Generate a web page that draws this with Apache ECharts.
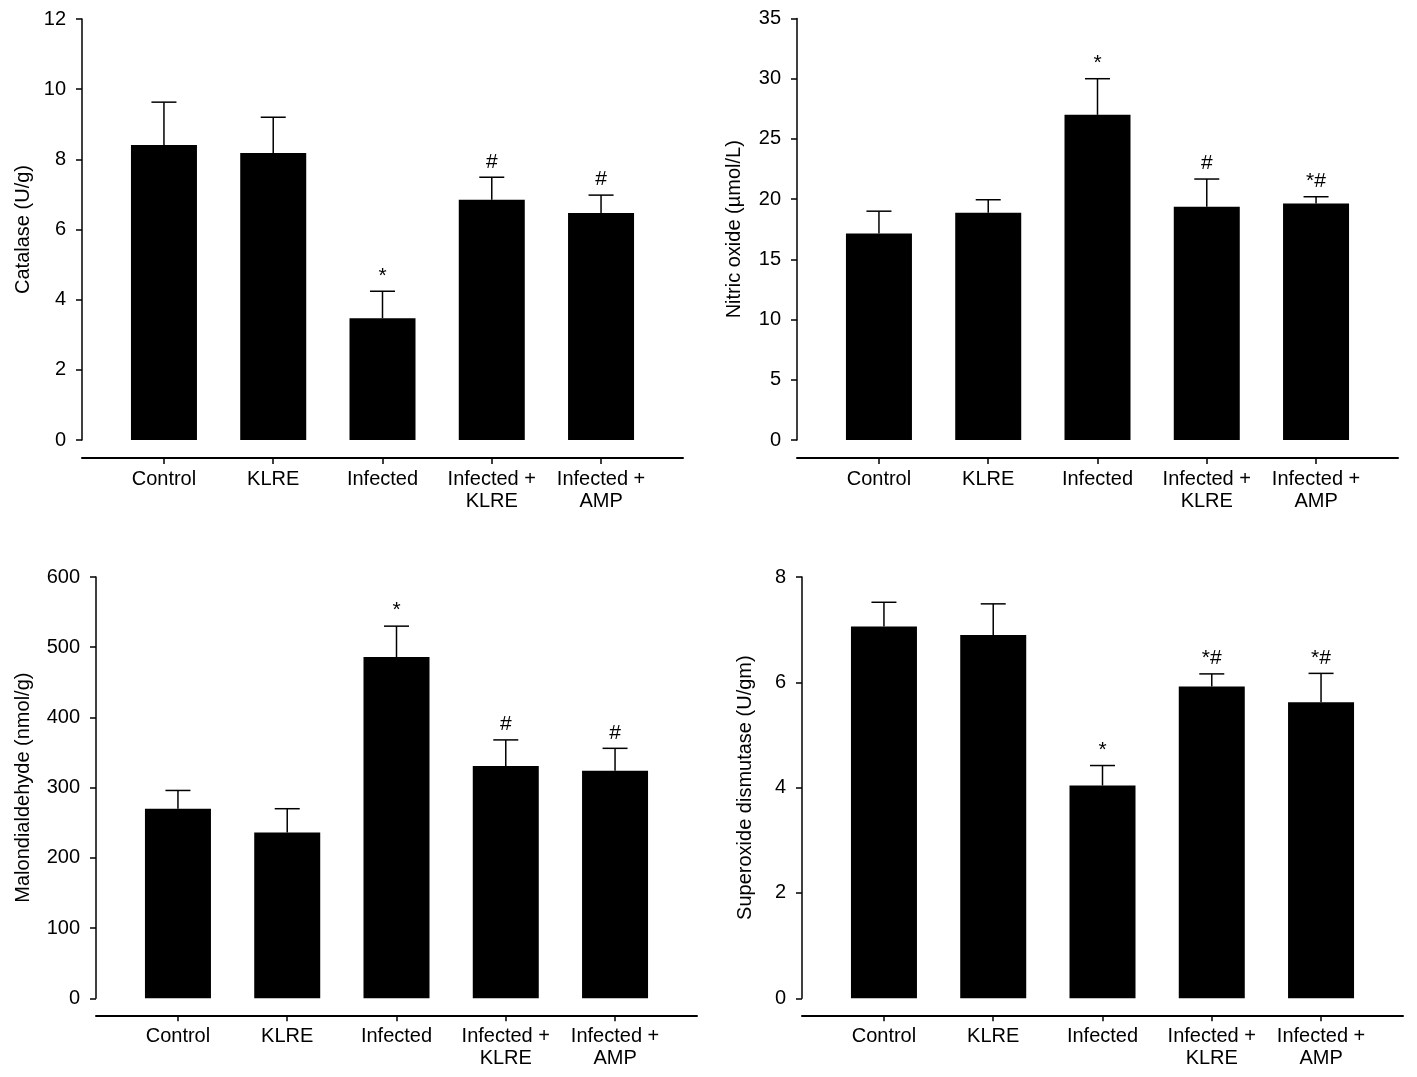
<!DOCTYPE html>
<html>
<head>
<meta charset="utf-8">
<script src="https://cdn.jsdelivr.net/npm/echarts@6/dist/echarts.min.js"></script>
<style>
html,body{margin:0;padding:0;background:#fff;}
#chart{width:1417px;height:1077px;}
</style>
</head>
<body>
<div id="chart"></div>
<script>
const categories = ['Control', 'KLRE', 'Infected', 'Infected +\nKLRE', 'Infected +\nAMP'];

const catalaseMean  = [8.41, 8.18, 3.47, 6.85, 6.47];
const catalaseUpper = [9.63, 9.20, 4.24, 7.49, 6.98];
const catalaseMarks = ['', '', '*', '#', '#'];

const nitricMean  = [17.15, 18.87, 27.0, 19.37, 19.64];
const nitricUpper = [19.0, 19.95, 30.0, 21.67, 20.2];
const nitricMarks = ['', '', '*', '#', '*#'];

const mdaMean  = [270, 236, 486, 331, 324];
const mdaUpper = [296, 270, 530, 368, 356];
const mdaMarks = ['', '', '*', '#', '#'];

const sodMean  = [7.06, 6.90, 4.04, 5.92, 5.62];
const sodUpper = [7.52, 7.49, 4.42, 6.16, 6.17];
const sodMarks = ['', '', '*', '*#', '*#'];

const FONT = "'Liberation Sans', Arial, sans-serif";

const panels = [
  {left: 82,  top: 19,  height: 421, name: 'Catalase (U/g)', max: 12, interval: 2, nameGap: 49, offset: 18,
   mean: catalaseMean, upper: catalaseUpper, marks: catalaseMarks},
  {left: 797, top: 18.5, height: 421.5, name: 'Nitric oxide (µmol/L)', max: 35, interval: 5, nameGap: 53, offset: 18,
   mean: nitricMean, upper: nitricUpper, marks: nitricMarks},
  {left: 96,  top: 577, height: 421.3, name: 'Malondialdehyde (nmol/g)', max: 600, interval: 100, nameGap: 63, offset: 17,
   mean: mdaMean, upper: mdaUpper, marks: mdaMarks},
  {left: 802, top: 577, height: 421.3, name: 'Superoxide dismutase (U/gm)', max: 8, interval: 2, nameGap: 47, offset: 17,
   mean: sodMean, upper: sodUpper, marks: sodMarks}
];

const grid = [], xAxis = [], yAxis = [], series = [];
panels.forEach((p, i) => {
  grid.push({left: p.left, top: p.top, width: 601, height: p.height, containLabel: false});
  xAxis.push({
    type: 'value', gridIndex: i, min: -0.75, max: 4.75, offset: p.offset,
    splitLine: {show: false},
    axisLine: {show: true, onZero: false, lineStyle: {color: '#000', width: 2}},
    axisTick: {show: true, customValues: [0, 1, 2, 3, 4], length: 6, lineStyle: {color: '#000', width: 1.5}},
    axisLabel: {show: true, customValues: [0, 1, 2, 3, 4], margin: 10,
      formatter: v => categories[Math.round(v)],
      color: '#000', fontSize: 20, fontFamily: FONT, lineHeight: 22}
  });
  yAxis.push({
    type: 'value', gridIndex: i, min: 0, max: p.max, interval: p.interval,
    name: p.name, nameLocation: 'middle', nameGap: p.nameGap, nameRotate: 90,
    nameTextStyle: {color: '#000', fontSize: 20, fontFamily: FONT},
    splitLine: {show: false},
    axisLine: {show: true, onZero: false, lineStyle: {color: '#000', width: 1.5}},
    axisTick: {show: true, length: 6, lineStyle: {color: '#000', width: 1.5}},
    axisLabel: {margin: 16, color: '#000', fontSize: 20, fontFamily: FONT}
  });
  series.push({
    type: 'bar', xAxisIndex: i, yAxisIndex: i, barWidth: 66,
    itemStyle: {color: '#000'},
    data: p.mean.map((v, k) => [k, v])
  });
  const marks = p.marks;
  series.push({
    type: 'custom', xAxisIndex: i, yAxisIndex: i, z: 5,
    data: p.mean.map((v, k) => [k, v, p.upper[k]]),
    renderItem: (params, api) => {
      const x = api.value(0), m = api.value(1), u = api.value(2);
      const p0 = api.coord([x, m]);
      const p1 = api.coord([x, u]);
      const st = {stroke: '#000', lineWidth: 1.5};
      return {
        type: 'group',
        children: [
          {type: 'line', shape: {x1: p0[0], y1: p0[1], x2: p1[0], y2: p1[1]}, style: st},
          {type: 'line', shape: {x1: p1[0] - 12.5, y1: p1[1], x2: p1[0] + 12.5, y2: p1[1]}, style: st},
          {type: 'text', style: {text: marks[params.dataIndex], x: p1[0], y: p1[1] - 5,
            align: 'center', verticalAlign: 'bottom', fill: '#000', font: '21px ' + FONT}}
        ]
      };
    }
  });
});

const chart = echarts.init(document.getElementById('chart'), null, {renderer: 'canvas'});
chart.setOption({
  animation: false,
  backgroundColor: '#fff',
  grid, xAxis, yAxis, series
});
</script>
</body>
</html>
